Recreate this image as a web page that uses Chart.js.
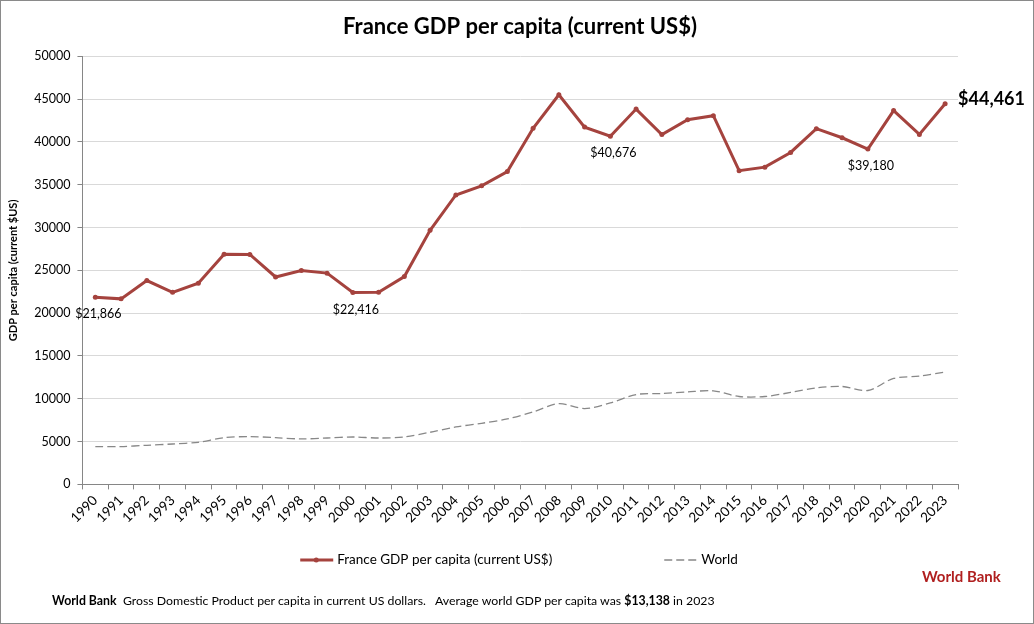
<!DOCTYPE html>
<html>
<head>
<meta charset="utf-8">
<title>France GDP per capita</title>
<script src="https://cdn.jsdelivr.net/npm/chart.js@4.4.1/dist/chart.umd.min.js"></script>
<style>
    html, body { margin: 0; padding: 0; background: #fff; }
    #frame {
        position: relative;
        width: 1034px;
        height: 624px;
        box-sizing: border-box;
        border: 1px solid #8a8a8a;
        font-family: Lato, "Open Sans", sans-serif;
    }
    #wrap { position: absolute; left: 0; top: 0; width: 1032px; height: 622px; }
    #source { position: absolute; left: 921px; top: 566px; color: #b01f1f; font-weight: bold; font-size: 15px; }
    #note { position: absolute; left: 51px; top: 592px; font-size: 12.3px; color: #000; white-space: pre; }
</style>
</head>
<body>
<div id="frame">
    <div id="wrap"><canvas id="gdpChart"></canvas></div>
    <div id="source">World Bank</div>
    <div id="note"><b>World Bank</b>  Gross Domestic Product per capita in current US dollars.   Average world GDP per capita was <b>$13,138</b> in 2023</div>
</div>
<script>
const years = ['1990', '1991', '1992', '1993', '1994', '1995', '1996', '1997', '1998', '1999',
    '2000', '2001', '2002', '2003', '2004', '2005', '2006', '2007', '2008', '2009',
    '2010', '2011', '2012', '2013', '2014', '2015', '2016', '2017', '2018', '2019',
    '2020', '2021', '2022', '2023'];

const franceGdp = [21866, 21676, 23815, 22441, 23507, 26890, 26871, 24229, 24974, 24681,
    22416, 22452, 24277, 29691, 33812, 34880, 36545, 41601, 45516, 41739,
    40676, 43847, 40875, 42603, 43069, 36653, 37063, 38781, 41558, 40494,
    39180, 43671, 40886, 44461];

const worldGdp = [4420, 4420, 4570, 4720, 4920, 5460, 5580, 5460, 5310, 5420,
    5540, 5420, 5540, 6090, 6710, 7140, 7650, 8470, 9440, 8860,
    9520, 10500, 10620, 10810, 10930, 10270, 10270, 10740, 11280, 11440,
    10970, 12380, 12650, 13138];

// callouts under the France line
const calloutIdx = [0, 10, 20, 30];
const calloutText = ['$21,866', '$22,416', '$40,676', '$39,180'];
const lastText = '$44,461';

const franceColor = '#a5433e';
const worldColor = '#888888';

const pointLabels = {
    id: 'pointLabels',
    afterDatasetsDraw(chart) {
        const ctx = chart.ctx;
        const meta = chart.getDatasetMeta(0);
        ctx.save();
        ctx.fillStyle = '#000';
        ctx.font = '12.5px Lato';
        ctx.textAlign = 'center';
        ctx.textBaseline = 'middle';
        calloutIdx.forEach((idx, i) => {
            const p = meta.data[idx];
            ctx.fillText(calloutText[i], p.x + 3, p.y + 17);
        });
        const last = meta.data[meta.data.length - 1];
        ctx.font = 'bold 18px Lato';
        ctx.textAlign = 'left';
        ctx.fillText(lastText, last.x + 13, last.y - 5);
        ctx.restore();
    }
};

// legend spaced the way the spreadsheet does it
const wideLegend = {
    id: 'wideLegend',
    afterDraw(chart) {
        const ctx = chart.ctx;
        const y = 559;
        const gap = 112;
        ctx.save();
        ctx.font = '13.5px Lato';
        ctx.textBaseline = 'middle';
        ctx.fillStyle = '#000';
        const items = chart.data.datasets.map(ds => ({ds, w: ctx.measureText(ds.label).width}));
        const total = items.reduce((s, it) => s + 36 + it.w, 0) + gap;
        let x = 517 - total / 2;
        items.forEach(it => {
            const ds = it.ds;
            ctx.strokeStyle = ds.borderColor;
            ctx.lineWidth = ds.borderWidth;
            ctx.setLineDash(ds.borderDash || []);
            ctx.beginPath();
            ctx.moveTo(x, y);
            ctx.lineTo(x + 33, y);
            ctx.stroke();
            if (ds.pointRadius > 0) {
                ctx.setLineDash([]);
                ctx.fillStyle = ds.borderColor;
                ctx.beginPath();
                ctx.arc(x + 16, y, 2.5, 0, Math.PI * 2);
                ctx.fill();
            }
            ctx.fillStyle = '#000';
            ctx.fillText(ds.label, x + 37, y);
            x += 37 + it.w + gap;
        });
        ctx.restore();
    }
};

new Chart('gdpChart', {
    type: 'line',
    data: {
        labels: years,
        datasets: [{
            label: 'France GDP per capita (current US$)',
            data: franceGdp,
            borderColor: franceColor,
            backgroundColor: franceColor,
            borderWidth: 3,
            pointRadius: 2.5,
            pointBorderWidth: 0,
            pointBackgroundColor: franceColor,
            lineTension: 0
        }, {
            label: 'World',
            data: worldGdp,
            borderColor: worldColor,
            backgroundColor: worldColor,
            borderWidth: 1.3,
            borderDash: [8, 4],
            pointRadius: 0,
            lineTension: 0.3
        }]
    },
    options: {
        responsive: true,
        maintainAspectRatio: false,
        animation: false,
        layout: {
            padding: {left: 6, right: 0, top: 0, bottom: 94}
        },
        scales: {
            x: {
                offset: true,
                grid: {
                    drawOnChartArea: false,
                    offset: true,
                    tickLength: 5,
                    color: '#868686'
                },
                border: {color: '#868686'},
                ticks: {
                    autoSkip: false,
                    minRotation: 45,
                    maxRotation: 45,
                    color: '#000',
                    font: {family: 'Lato', size: 13.5}
                }
            },
            y: {
                min: 0,
                max: 50000,
                grid: {
                    color: '#d9d9d9',
                    tickColor: '#868686',
                    tickLength: 5
                },
                border: {color: '#868686'},
                ticks: {
                    stepSize: 5000,
                    padding: 7,
                    color: '#000',
                    font: {family: 'Lato', size: 12.5},
                    callback: (v) => String(v)
                },
                title: {
                    display: true,
                    text: 'GDP per capita (current $US)',
                    color: '#000',
                    font: {family: 'Lato', size: 11, weight: 'bold'},
                    padding: {top: 0, bottom: 7}
                }
            },
            // empty right axis keeps room for the end label
            room: {
                position: 'right',
                display: true,
                grid: {display: false},
                border: {display: false},
                ticks: {display: false},
                afterFit: (scale) => { scale.width = 75; }
            }
        },
        plugins: {
            legend: {display: false},
            tooltip: {enabled: false},
            title: {
                display: true,
                text: 'France GDP per capita (current US$)',
                color: '#000',
                font: {family: 'Lato', size: 22, weight: 'bold'},
                padding: {top: 13, bottom: 16}
            }
        }
    },
    plugins: [pointLabels, wideLegend]
});
</script>
</body>
</html>
